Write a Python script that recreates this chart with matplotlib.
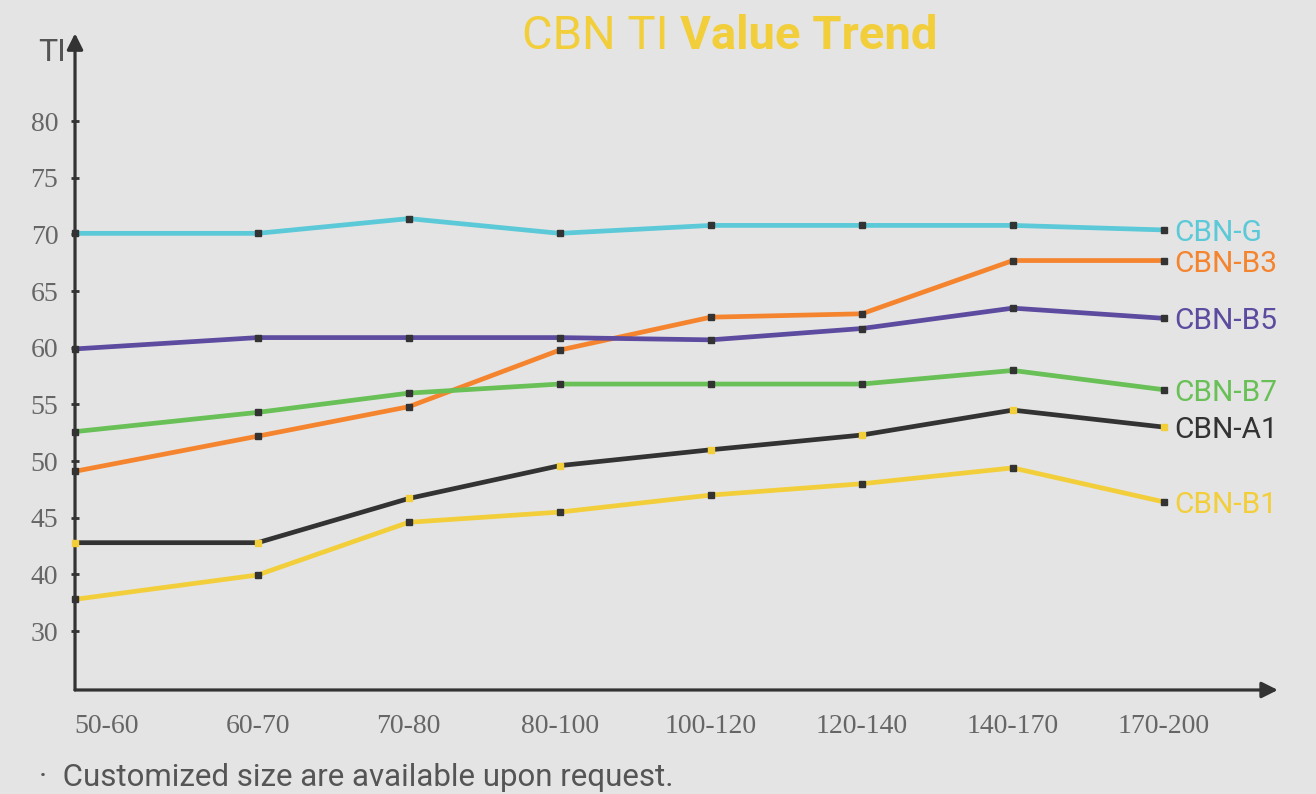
import numpy as np
import matplotlib.pyplot as plt

# x categories and y tick labels (y axis is evenly spaced by label, not by value)
size_ranges = ["50-60", "60-70", "70-80", "80-100", "100-120", "120-140", "140-170", "170-200"]
ti_ticks = [30, 40, 45, 50, 55, 60, 65, 70, 75, 80]

cbn_g = [70.1, 70.1, 71.4, 70.1, 70.8, 70.8, 70.8, 70.4]
cbn_b3 = [49.1, 52.2, 54.8, 59.8, 62.7, 63.0, 67.7, 67.7]
cbn_b5 = [59.9, 60.9, 60.9, 60.9, 60.7, 61.7, 63.5, 62.6]
cbn_b7 = [52.6, 54.3, 56.0, 56.8, 56.8, 56.8, 58.0, 56.3]
cbn_a1 = [42.8, 42.8, 46.7, 49.6, 51.0, 52.3, 54.5, 53.0]
cbn_b1 = [35.6, 39.9, 44.6, 45.5, 47.0, 48.0, 49.4, 46.4]

series = [
    ("CBN-G", cbn_g, "#5BC9D7", "#333333"),
    ("CBN-B3", cbn_b3, "#F5842F", "#333333"),
    ("CBN-B5", cbn_b5, "#5C4B9F", "#333333"),
    ("CBN-B7", cbn_b7, "#68C056", "#333333"),
    ("CBN-A1", cbn_a1, "#333333", "#F2CE3B"),
    ("CBN-B1", cbn_b1, "#F2CE3B", "#333333"),
]

BG = "#E4E4E4"
AXIS = "#333333"
YELLOW = "#F2CE3B"

fig = plt.figure(figsize=(13.16, 7.94), dpi=100, facecolor=BG)
ax = fig.add_axes([0.057, 0.131, 0.914, 0.827], facecolor=BG)

x_left = -0.21
ax.set_xlim(x_left, 7.755)
ax.set_ylim(-1.04, 10.55)

xs = np.arange(len(size_ranges), dtype=float)
xs[0] = x_left  # first point sits on the y axis


def to_pos(vals):
    return np.interp(vals, ti_ticks, np.arange(len(ti_ticks)))


for name, vals, col, mcol in series:
    ys = to_pos(vals)
    ax.plot(xs, ys, color=col, lw=3.4, solid_joinstyle="miter", zorder=3, clip_on=False)
    ax.plot(xs, ys, ls="none", marker="s", ms=4.8, mfc=mcol, mec=mcol, zorder=4, clip_on=False)
    ax.text(xs[-1] + 0.07, ys[-1], name, color=col, fontsize=21.5, family="Roboto",
            va="center_baseline", ha="left")

for s in ax.spines.values():
    s.set_visible(False)

# axes with arrow heads
arrow = dict(arrowstyle="-|>", lw=2.3, color=AXIS, mutation_scale=24, shrinkA=0, shrinkB=0)
ax.annotate("", xy=(x_left, 10.55), xytext=(x_left, -1.04), arrowprops=arrow, annotation_clip=False)
ax.annotate("", xy=(7.755, -1.04), xytext=(x_left, -1.04), arrowprops=arrow, annotation_clip=False)

ax.spines["left"].set_position(("data", x_left))

ax.set_yticks(np.arange(len(ti_ticks)))
ax.set_yticklabels([str(t) for t in ti_ticks])
ax.tick_params(axis="y", direction="inout", length=6, width=2, color=AXIS, pad=9,
               labelsize=20, labelcolor="#666666", labelfontfamily="Liberation Serif")

ax.set_xticks(np.arange(len(size_ranges)))
ax.set_xticklabels(size_ranges)
ax.tick_params(axis="x", length=0, pad=17, labelsize=20, labelcolor="#666666",
               labelfontfamily="Liberation Serif")

ax.text(-0.36, 10.22, "TI", family="Roboto", fontsize=23, color="#555555", ha="center", va="center")

# title: regular + bold parts, centred together
fig.canvas.draw()
r = fig.canvas.get_renderer()
t1 = fig.text(0, 0.955, "CBN TI ", family="Roboto", fontsize=34, color=YELLOW,
              fontweight="normal", ha="left", va="center")
t2 = fig.text(0, 0.955, "Value Trend", family="Roboto", fontsize=34, color=YELLOW,
              fontweight="bold", ha="left", va="center")
w1 = t1.get_window_extent(r).width
w2 = t2.get_window_extent(r).width
W = fig.bbox.width
x0 = (730 - (w1 + w2) / 2) / W
t1.set_x(x0)
t2.set_x(x0 + w1 / W)

fig.text(0.03, 0.01, "·  Customized size are available upon request.", family="Roboto",
         fontsize=22.5, color="#555555", ha="left", va="baseline")

fig.savefig("out.png", dpi=100, facecolor=BG)
